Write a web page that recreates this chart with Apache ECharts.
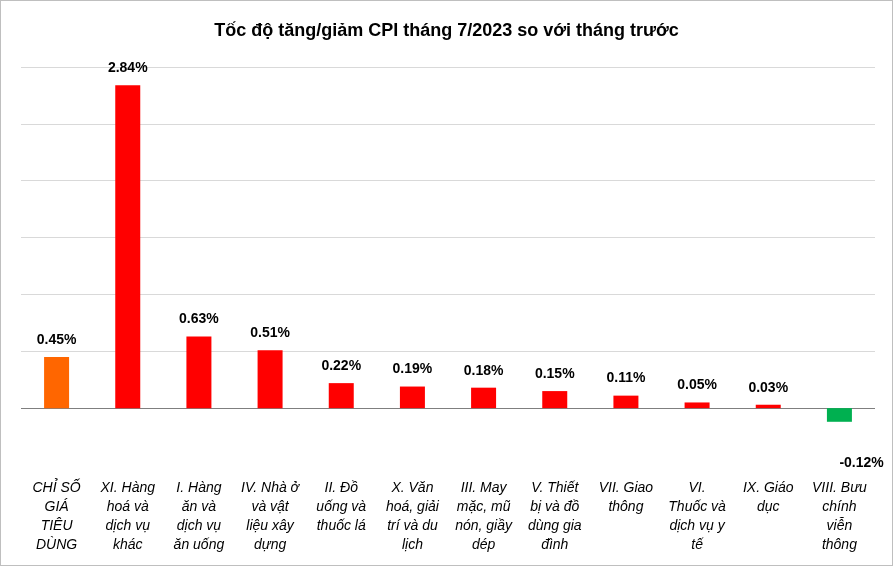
<!DOCTYPE html>
<html><head><meta charset="utf-8">
<script src="https://cdn.jsdelivr.net/npm/echarts@6/dist/echarts.min.js"></script>
<style>html,body{margin:0;padding:0;background:#fff}#c{width:891px;height:564px;border:1px solid #bfbfbf}</style>
</head><body><div id="c"></div>
<script>
const categories = ["CHỈ SỐ\nGIÁ\nTIÊU\nDÙNG","XI. Hàng\nhoá và\ndịch vụ\nkhác","I. Hàng\năn và\ndịch vụ\năn uống","IV. Nhà ở\nvà vật\nliệu xây\ndựng","II. Đồ\nuống và\nthuốc lá","X. Văn\nhoá, giải\ntrí và du\nlịch","III. May\nmặc, mũ\nnón, giầy\ndép","V. Thiết\nbị và đồ\ndùng gia\nđình","VII. Giao\nthông","VI.\nThuốc và\ndịch vụ y\ntế","IX. Giáo\ndục","VIII. Bưu\nchính\nviễn\nthông"];
const values = [0.45,2.84,0.63,0.51,0.22,0.19,0.18,0.15,0.11,0.05,0.03,-0.12];
const colors = values.map((v,i)=> i===0 ? '#ff6600' : (v<0 ? '#00b050' : '#ff0000'));
const chart = echarts.init(document.getElementById('c'));
chart.setOption({
  animation:false,
  title:{text:'Tốc độ tăng/giảm CPI tháng 7/2023 so với tháng trước',left:'center',top:16,
    textStyle:{fontFamily:'Liberation Sans',fontSize:18,fontWeight:'bold',color:'#000'}},
  grid:{left:20,right:17,top:66,bottom:100,containLabel:false},
  xAxis:{type:'category',data:categories,axisLine:{show:false,onZero:false},axisTick:{show:false},
    axisLabel:{interval:0,fontFamily:'Liberation Sans',fontSize:14,fontStyle:'italic',color:'#000',lineHeight:19,margin:14}},
  yAxis:{type:'value',min:-0.5,max:3,interval:0.5,axisLabel:{show:false},axisLine:{show:false},axisTick:{show:false},
    splitLine:{lineStyle:{color:['rgba(0,0,0,0)','#7f7f7f','#d9d9d9','#d9d9d9','#d9d9d9','#d9d9d9','#d9d9d9','#d9d9d9']}}},
  series:[{type:'bar',barWidth:25,data:values.map((v,i)=>({value:v,itemStyle:{color:colors[i]}})),
    label:{show:true,position:'top',distance:10,formatter:p=>p.value.toFixed(2)+'%',fontFamily:'Liberation Sans',fontSize:14,fontWeight:'bold',color:'#000'},
    labelLayout:function(p){ if(values[p.dataIndex]<0){return {y:p.rect.y+p.rect.height+34};} }
  }]
});
</script></body></html>
